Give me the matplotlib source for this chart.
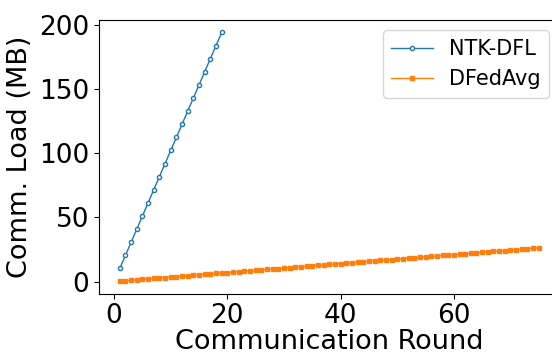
import matplotlib
matplotlib.use("Agg")
import matplotlib.pyplot as plt

ntk_rounds = list(range(1, 20))
ntk_load = [10.2, 20.4, 30.6, 40.8, 51.0, 61.2, 71.4, 81.6, 91.8, 102.0,
            112.2, 122.4, 132.6, 142.8, 153.0, 163.2, 173.4, 183.6, 193.8]

dfa_rounds = list(range(1, 76))
dfa_load = [0.35, 0.70, 1.05, 1.40, 1.75, 2.10, 2.45, 2.80, 3.15, 3.50,
            3.85, 4.20, 4.55, 4.90, 5.25, 5.60, 5.95, 6.30, 6.65, 7.00,
            7.35, 7.70, 8.05, 8.40, 8.75, 9.10, 9.45, 9.80, 10.15, 10.50,
            10.85, 11.20, 11.55, 11.90, 12.25, 12.60, 12.95, 13.30, 13.65, 14.00,
            14.35, 14.70, 15.05, 15.40, 15.75, 16.10, 16.45, 16.80, 17.15, 17.50,
            17.85, 18.20, 18.55, 18.90, 19.25, 19.60, 19.95, 20.30, 20.65, 21.00,
            21.35, 21.70, 22.05, 22.40, 22.75, 23.10, 23.45, 23.80, 24.15, 24.50,
            24.85, 25.20, 25.55, 25.90, 26.25]

fig = plt.figure(figsize=(5.52, 3.52), dpi=100)
ax = fig.add_axes([0.179, 0.166, 0.835, 0.777])

ax.plot(ntk_rounds, ntk_load, color="#1f77b4", marker="o", markersize=3,
        markerfacecolor="white", markeredgewidth=1.0, linewidth=1.0, label="NTK-DFL")
ax.plot(dfa_rounds, dfa_load, color="#ff7f0e", marker="s", markersize=2.5,
        linewidth=1.0, label="DFedAvg")

ax.set_xlabel("Communication Round", fontsize=19.5, labelpad=0)
ax.set_ylabel("Comm. Load (MB)", fontsize=19.5)
ax.tick_params(labelsize=19)
ax.set_xticks([0, 20, 40, 60])
ax.set_yticks([0, 50, 100, 150, 200])
ax.legend(loc="upper right", fontsize=15)

fig.savefig("out.png", dpi=100)
